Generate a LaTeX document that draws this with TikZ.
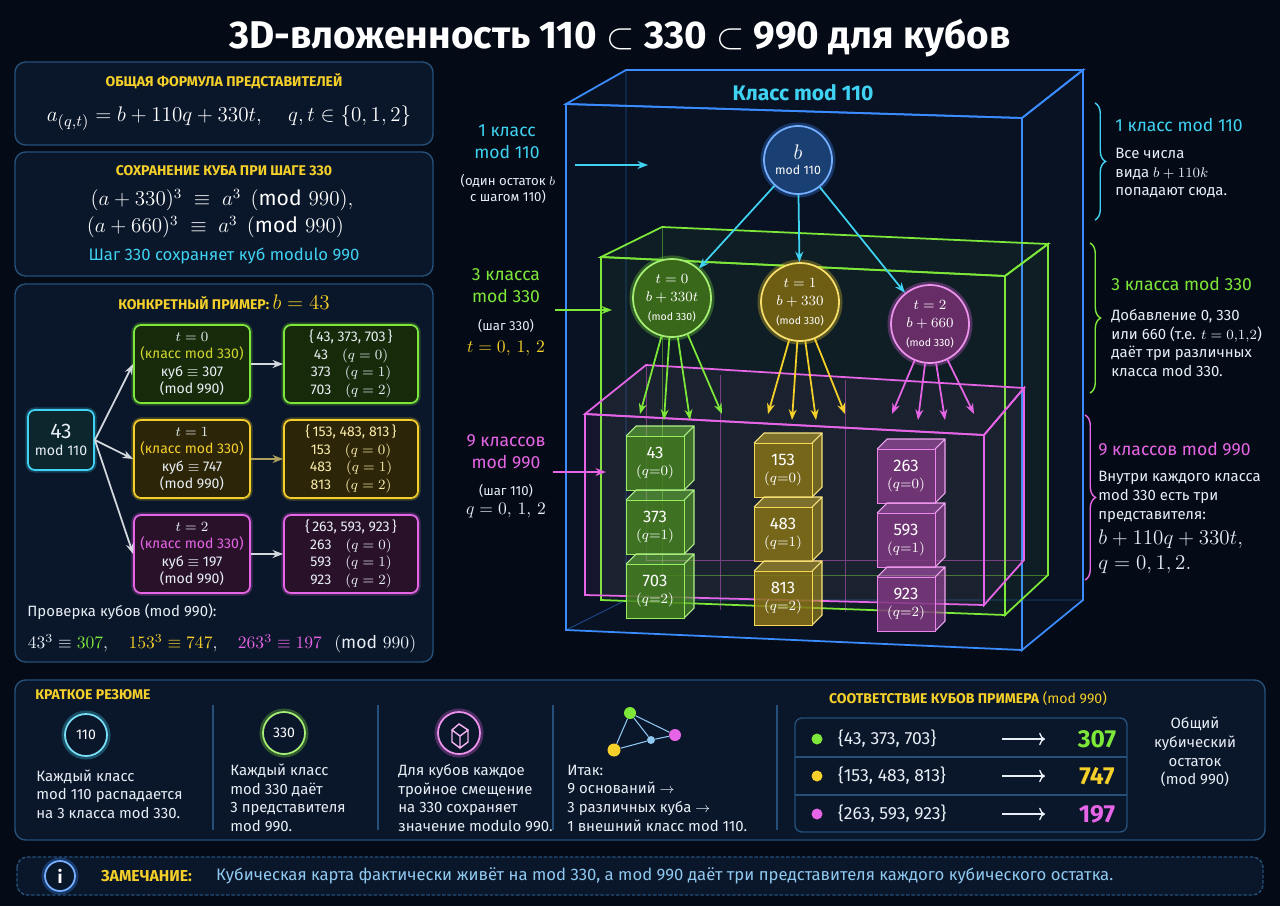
\documentclass[tikz,border=0pt]{standalone}
\usepackage{amsmath,amssymb}
\usepackage{fontspec}
\setmainfont{Fira Sans}
\usetikzlibrary{positioning,arrows.meta,decorations.pathreplacing,shapes.geometric}

\definecolor{bgc}{HTML}{050B16}
\definecolor{panel}{HTML}{0A1629}
\definecolor{pedge}{HTML}{24507A}
\definecolor{cyn}{HTML}{3FD2F2}
\definecolor{blu}{HTML}{3A8CFF}
\definecolor{grn}{HTML}{7EE83A}
\definecolor{ylw}{HTML}{F5D02A}
\definecolor{mgn}{HTML}{E665E6}
\definecolor{txt}{HTML}{E8EEF5}
\definecolor{soft}{HTML}{8FC8F0}

\newcommand\upx{0.02cm}
\newcommand\fs[1]{\fontsize{#1}{\dimexpr #1pt*5/4\relax}\selectfont}
% a numbered cube: name, x, y, colour, number, q
\newcommand\numcube[6]{%
  \fill[#4, fill opacity=0.45] (#2-29,#3-27) -- ++(10,-10) -- ++(58,0) -- ++(-10,10) -- cycle;
  \fill[#4!70!black, fill opacity=0.6] (#2+29,#3-27) -- ++(10,-10) -- ++(0,54) -- ++(-10,10) -- cycle;
  \draw[#4!60!white, line width=0.6pt] (#2-29,#3-27) -- ++(10,-10) -- ++(58,0) -- ++(0,54) -- ++(-10,10)
    (#2+29,#3-27) -- ++(10,-10);
  \node[cubeface=#4] (#1) at (#2,#3) {{\fs{9.5}#5}\\[-1pt]$(q{=}#6)$};
}

\tikzset{
  panel/.style={draw=pedge, fill=panel, rounded corners=6pt, line width=0.8pt},
  head/.style={text=ylw, font=\bfseries\fs{8}},
  body/.style={text=txt, font=\fs{8.5}, align=left, inner sep=0pt},
  tbox/.style={draw=#1, fill=#1!18!black, rounded corners=4pt, line width=1pt,
    preaction={draw=#1, line width=3pt, opacity=0.25},
    minimum width=116*\upx, minimum height=78*\upx, align=center, text=txt, font=\fs{8}, inner sep=1pt},
  sbox/.style={tbox=#1, minimum width=134*\upx},
  ball/.style={circle, draw=#1!70!white, fill=#1!45!black, line width=1pt,
    preaction={draw=#1, line width=4pt, opacity=0.3},
    align=center, text=white, font=\fs{8}, inner sep=0pt},
  cubeface/.style={draw=#1!80!white, fill=#1!55!black, fill opacity=0.85, text opacity=1,
    minimum width=58*\upx, minimum height=54*\upx, align=center, text=white, font=\fs{8.5}, inner sep=0pt},
  glass/.style={draw=#1, line width=1pt, fill=#1, fill opacity=0.06},
  hidden/.style={draw=#1, line width=0.5pt, opacity=0.45},
  arr/.style={-{Stealth[length=6pt]}, line width=1pt},
  brc/.style={decorate, decoration={brace, amplitude=6pt}, line width=0.8pt},
  sep/.style={draw=pedge, line width=0.6pt},
}

\begin{document}
\begin{tikzpicture}[x=0.02cm, y=-0.02cm]
\fill[bgc] (0,0) rectangle (1280,906);

\node (title) at (620,38) [text=white, font=\bfseries\fs{22}] {3D-вложенность 110 $\subset$ 330 $\subset$ 990 для кубов};

% left panels
\draw[panel] (15,62) rectangle (433,145);
\node (h1) at (224,81) [head] {ОБЩАЯ ФОРМУЛА ПРЕДСТАВИТЕЛЕЙ};
\node (f1) at (229,118) [text=white, font=\fs{13}] {$a_{(q,t)} = b+110q+330t,\quad q,t\in\{0,1,2\}$};

\draw[panel] (15,152) rectangle (433,276);
\node (h2) at (224,171) [head] {СОХРАНЕНИЕ КУБА ПРИ ШАГЕ 330};
\node (f2) at (222,200) [text=white, font=\fs{12}] {$(a+330)^3 \;\equiv\; a^3 \pmod{990},$};
\node (f3) at (218,227) [text=white, font=\fs{12}] {$(a+660)^3 \;\equiv\; a^3 \pmod{990}$\phantom{,}};
\node (c2) at (224,256) [text=cyn, font=\fs{9.5}] {Шаг 330 сохраняет куб modulo 990};

\draw[panel] (15,284) rectangle (433,662);
\node (h3) at (224,302) [head] {КОНКРЕТНЫЙ ПРИМЕР: \textnormal{\fs{12}$b = 43$}};
\node (n43) at (61,440) [tbox=cyn, minimum width=66*\upx, minimum height=60*\upx, font=\fs{8}] {{\fs{12}43}\\mod 110};

\node (t0) at (192,364) [tbox=grn] {$t=0$\\{\color{ylw!70!grn}(класс mod 330)}\\куб $\equiv$ 307\\(mod 990)};
\node (t1) at (192,459) [tbox=ylw] {$t=1$\\{\color{ylw}(класс mod 330)}\\куб $\equiv$ 747\\(mod 990)};
\node (t2) at (192,554) [tbox=mgn] {$t=2$\\{\color{mgn}(класс mod 330)}\\куб $\equiv$ 197\\(mod 990)};

\node (s0) at (351,364) [sbox=grn] {\{\,43,\ 373, 703\,\}\\43\quad $(q=0)$\\373\quad $(q=1)$\\703\quad $(q=2)$};
\node (s1) at (351,459) [sbox=ylw, text=ylw!40!white] {\{\,153, 483, 813\,\}\\153\quad $(q=0)$\\483\quad $(q=1)$\\813\quad $(q=2)$};
\node (s2) at (351,554) [sbox=mgn] {\{\,263, 593, 923\,\}\\263\quad $(q=0)$\\593\quad $(q=1)$\\923\quad $(q=2)$};

\draw[arr, txt!80!gray] (n43.east) -- (t0.west);
\draw[arr, txt!80!gray] (n43.east) -- (t1.west);
\draw[arr, txt!80!gray] (n43.east) -- (t2.west);
\draw[arr, txt!80!gray] (t0) -- (s0);
\draw[arr, ylw!40!gray] (t1) -- (s1);
\draw[arr, txt!80!gray] (t2) -- (s2);

\node (chk) at (27,612) [body, anchor=west] {Проверка кубов (mod 990):};
\node (chkf) at (222,644) [text=txt, font=\fs{10}] {$43^3 \equiv \textcolor{grn}{307},\quad \textcolor{ylw}{153^3 \equiv 747},\quad \textcolor{mgn}{263^3 \equiv 197}\ \pmod{990}$};

% outer box mod 110
\draw[hidden=blu] (626,70) -- (626,600) -- (1083,600) (626,600) -- (566,630);
\draw[glass=blu] (566,104) -- (1022,118) -- (1022,650) -- (566,630) -- cycle;
\draw[glass=blu] (566,104) -- (626,70) -- (1083,70) -- (1022,118) -- cycle;
\draw[glass=blu] (1022,118) -- (1083,70) -- (1083,600) -- (1022,650) -- cycle;
\node (l110) at (803,93) [text=cyn, font=\bfseries\fs{12}] {Класс mod 110};

% green box mod 330
\draw[hidden=grn] (662,227) -- (662,575) -- (1048,575);
\draw[glass=grn] (601,257) -- (1005,276) -- (1005,615) -- (601,600) -- cycle;
\draw[glass=grn] (601,257) -- (662,227) -- (1048,244) -- (1005,276) -- cycle;
\draw[glass=grn] (1005,276) -- (1048,244) -- (1048,575) -- (1005,615) -- cycle;

% magenta box mod 990
\draw[hidden=mgn] (646,365) -- (646,560) -- (1024,560) (720,375) -- (720,610) (845,380) -- (845,612);
\draw[glass=mgn] (585,414) -- (984,435) -- (984,605) -- (585,595) -- cycle;
\draw[glass=mgn] (585,414) -- (646,365) -- (1024,388) -- (984,435) -- cycle;
\draw[glass=mgn] (984,435) -- (1024,388) -- (1024,560) -- (984,605) -- cycle;

% spheres
\node (bb) at (798,160) [ball=blu, minimum size=68*\upx, font=\fs{7}] {{\fs{12}$b$}\\mod 110};
\node (c0) at (672,298) [ball=grn, minimum size=78*\upx, font=\fs{8.5}] {$t=0$\\$b+330t$\\{\fs{6}(mod 330)}};
\node (c1) at (800,302) [ball=ylw, minimum size=78*\upx, font=\fs{8.5}] {$t=1$\\$b+330$\\{\fs{6}(mod 330)}};
\node (c2) at (930,324) [ball=mgn, minimum size=78*\upx, font=\fs{8.5}] {$t=2$\\$b+660$\\{\fs{6}(mod 330)}};
\draw[arr, cyn] (bb) -- (c0);
\draw[arr, cyn] (bb) -- (c1);
\draw[arr, cyn] (bb) -- (c2);

\foreach \s/\c/\xa/\xb/\xc/\xd in {c0/grn/640/664/690/722, c1/ylw/768/792/816/845, c2/mgn/892/918/945/974}{
  \coordinate (\s a) at (\xa,414);
  \coordinate (\s b) at (\xb,420);
  \coordinate (\s c) at (\xc,420);
  \coordinate (\s d) at (\xd,414);
  \draw[arr, \c] (\s) -- (\s a);
  \draw[arr, \c] (\s) -- (\s b);
  \draw[arr, \c] (\s) -- (\s c);
  \draw[arr, \c] (\s) -- (\s d);
}

% cubes
\numcube{k43}{655}{463}{grn}{43}{0}
\numcube{k373}{655}{527}{grn}{373}{1}
\numcube{k703}{655}{591}{grn}{703}{2}
\numcube{k153}{783}{470}{ylw}{153}{0}
\numcube{k483}{783}{534}{ylw}{483}{1}
\numcube{k813}{783}{598}{ylw}{813}{2}
\numcube{k263}{906}{476}{mgn}{263}{0}
\numcube{k593}{906}{540}{mgn}{593}{1}
\numcube{k923}{906}{604}{mgn}{923}{2}

% left labels
\node (la) at (507,142) [text=cyn, font=\fs{10}, align=center] {1 класс\\mod 110};
\node (lb) at (508,189) [body, align=center, font=\fs{7.5}] {(один остаток $b$\\с шагом 110)};
\coordinate (a1s) at (575,165); \coordinate (a1e) at (648,165);
\draw[arr, cyn] (a1s) -- (a1e);
\node (lc) at (506,286) [text=grn, font=\fs{10}, align=center] {3 класса\\mod 330};
\node (ld) at (506,326) [body, font=\fs{7.5}] {(шаг 330)};
\node (le) at (506,349) [text=ylw, font=\fs{10}] {$t = 0,\,1,\,2$};
\coordinate (a2s) at (555,310); \coordinate (a2e) at (612,310);
\draw[arr, grn] (a2s) -- (a2e);
\node (lf) at (506,452) [text=mgn, font=\fs{10}, align=center] {9 классов\\mod 990};
\node (lg) at (506,491) [body, font=\fs{7.5}] {(шаг 110)};
\node (lh) at (506,511) [text=txt, font=\fs{10}] {$q = 0,\,1,\,2$};
\coordinate (a3s) at (553,472); \coordinate (a3e) at (606,472);
\draw[arr, mgn] (a3s) -- (a3e);

% right labels
\coordinate (b1t) at (1095,103); \coordinate (b1b) at (1095,220);
\draw[brc, cyn] (b1t) -- (b1b);
\node (ra) at (1115,125) [anchor=west, text=cyn, font=\fs{10}, inner sep=0pt] {1 класс mod 110};
\node (rb) at (1115,173) [body, anchor=west] {Все числа\\вида $b+110k$\\попадают сюда.};
\coordinate (b2t) at (1090,243); \coordinate (b2b) at (1090,393);
\draw[brc, grn] (b2t) -- (b2b);
\node (rc) at (1111,284) [anchor=west, text=grn, font=\fs{10}, inner sep=0pt] {3 класса mod 330};
\node (rd) at (1111,343) [body, anchor=west] {Добавление 0, 330\\или 660 (т.е. $t=0{,}1{,}2$)\\даёт три различных\\класса mod 330.};
\coordinate (b3t) at (1085,415); \coordinate (b3b) at (1085,580);
\draw[brc, mgn] (b3t) -- (b3b);
\node (re) at (1098,449) [anchor=west, text=mgn, font=\fs{10}, inner sep=0pt] {9 классов mod 990};
\node (rf) at (1098,497) [body, anchor=west] {Внутри каждого класса\\mod 330 есть три\\представителя:};
\node (rg) at (1098,552) [anchor=west, text=txt, font=\fs{11.5}, align=left, inner sep=0pt] {$b+110q+330t,$\\$q=0,1,2.$};

% summary panel
\draw[panel] (15,680) rectangle (1265,840);
\node (h4) at (35,695) [head, anchor=west, inner sep=0pt] {КРАТКОЕ РЕЗЮМЕ};
\foreach \sx in {213,378,553,777}{ \draw[sep] (\sx,705) -- (\sx,830); }
\node (i110) at (86,735) [ball=cyn, fill=panel, minimum size=42*\upx] {110};
\node (s110) at (36,794) [body, anchor=west] {Каждый класс\\mod 110 распадается\\на 3 класса mod 330.};
\node (i330) at (284,733) [ball=grn, fill=panel, minimum size=42*\upx] {330};
\node (s330) at (230,798) [body, anchor=west] {Каждый класс\\mod 330 даёт\\3 представителя\\mod 990.};
\node (icub) at (459,733) [ball=mgn, fill=panel, minimum size=42*\upx] {};
\draw[mgn!50!white, line width=0.8pt] (452,730) -- (459,724) -- (468,730) -- (460,736) -- cycle (452,730) -- (452,742) -- (460,748) -- (460,736) (468,730) -- (468,742) -- (460,748);
\node (scub) at (398,798) [body, anchor=west] {Для кубов каждое\\тройное смещение\\на 330 сохраняет\\значение modulo 990.};
\node (ng) at (630,713) [circle, fill=grn, minimum size=12*\upx, inner sep=0pt] {};
\node (nm) at (675,735) [circle, fill=mgn, minimum size=12*\upx, inner sep=0pt] {};
\node (ny) at (614,750) [circle, fill=ylw, minimum size=13*\upx, inner sep=0pt] {};
\node (nw) at (651,740) [circle, fill=soft, minimum size=8*\upx, inner sep=0pt] {};
\draw[soft, line width=0.6pt] (ng) -- (nm) (ng) -- (ny) (ny) -- (nw) (nw) -- (nm) (ng) -- (nw);
\node (sit) at (567,798) [body, anchor=west] {Итак:\\9 оснований $\to$\\3 различных куба $\to$\\1 внешний класс mod 110.};

\node (h5) at (968,699) [head] {СООТВЕТСТВИЕ КУБОВ ПРИМЕРА \textnormal{(mod 990)}};
\draw[panel, rounded corners=4pt] (795,718) rectangle (1127,832);
\draw[sep] (795,757) -- (1127,757) (795,795) -- (1127,795);
\foreach \c/\y/\set/\res in {grn/739/{43, 373, 703}/307, ylw/776/{153, 483, 813}/747, mgn/814/{263, 593, 923}/197}{
  \node (d\res) at (817,\y) [circle, fill=\c, minimum size=11*\upx, inner sep=0pt] {};
  \node (m\res) at (832,\y) [anchor=west, text=txt, font=\fs{10}] {\{\set\}};
  \node (r\res) at (1097,\y) [text=\c, font=\bfseries\fs{14}] {\res};
  \coordinate (e\res) at (1002,\y); \coordinate (f\res) at (1045,\y);
  \draw[-{To}, txt, line width=0.8pt] (e\res) -- (f\res);
}
\node (obs) at (1195,752) [body, align=center] {Общий\\кубический\\остаток\\(mod 990)};

% note bar
\draw[panel, dash pattern=on 2pt off 1pt] (17,857) rectangle (1263,895);
\node (info) at (60,876) [ball=blu, fill=panel, minimum size=30*\upx, font=\bfseries\fs{10}] {i};
\node (nt) at (95,876) [anchor=west, head, font=\bfseries\fs{9}] {ЗАМЕЧАНИЕ:};
\node (nx) at (210,876) [anchor=west, text=soft, font=\fs{9.5}] {Кубическая карта фактически живёт на mod 330, а mod 990 даёт три представителя каждого кубического остатка.};
\end{tikzpicture}
\end{document}
